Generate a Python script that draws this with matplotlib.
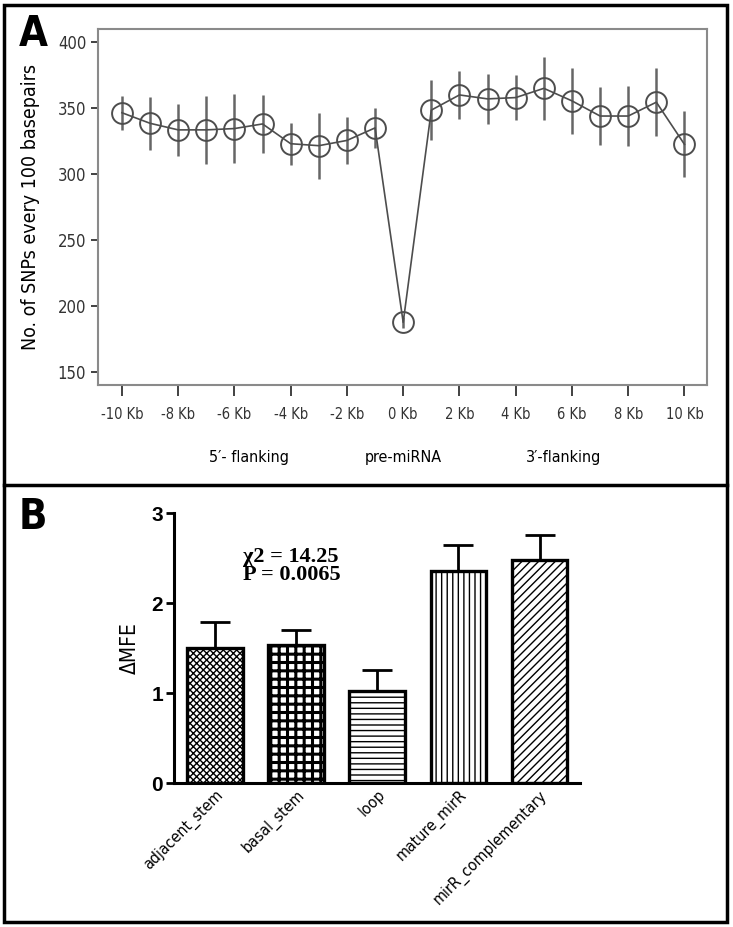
import matplotlib
matplotlib.use("Agg")
import matplotlib.pyplot as plt
from matplotlib import font_manager
from matplotlib.patches import Rectangle
from matplotlib.lines import Line2D

# ---- panel A data: SNP density around pre-miRNA ----
positions_kb = [-10, -9, -8, -7, -6, -5, -4, -3, -2, -1, 0,
                1, 2, 3, 4, 5, 6, 7, 8, 9, 10]
snp_counts = [346.5, 338.5, 333.5, 333.5, 334.5, 338.0, 323.0, 321.5, 325.5, 335.0, 187.5,
              348.5, 360.0, 357.0, 358.0, 365.0, 355.5, 344.0, 344.0, 354.5, 322.5]
snp_err = [13, 20, 20, 26, 26, 22, 16, 25, 18, 15, 4,
           23, 18, 19, 17, 24, 25, 22, 23, 26, 25]
xtick_kb = [-10, -8, -6, -4, -2, 0, 2, 4, 6, 8, 10]
xtick_labels = ["-10 Kb", "-8 Kb", "-6 Kb", "-4 Kb", "-2 Kb", "0 Kb",
                "2 Kb", "4 Kb", "6 Kb", "8 Kb", "10 Kb"]
region_labels = ["5\u2032- flanking", "pre-miRNA", "3\u2032-flanking"]
region_x = [-5.5, 0.0, 5.7]

# ---- panel B data: delta MFE by region ----
regions = ["adjacent_stem", "basal_stem", "loop", "mature_mirR", "mirR_complementary"]
mfe = [1.50, 1.53, 1.02, 2.36, 2.48]
mfe_err = [0.29, 0.17, 0.24, 0.28, 0.28]
hatches = ["xxxxx", "++", "---", "|||", "////"]
stat_text = "\u03c72 = 14.25\nP = 0.0065"

names = {f.name for f in font_manager.fontManager.ttflist}
narrow = "Liberation Sans Narrow" if "Liberation Sans Narrow" in names else "DejaVu Sans"
plt.rcParams["font.family"] = [narrow, "DejaVu Sans"]
plt.rcParams["font.stretch"] = "condensed"

fig = plt.figure(figsize=(7.33, 9.27), dpi=100)

# ---------------- panel A ----------------
gray = "#4d4d4d"
ax1 = fig.add_axes([0.1337, 0.5847, 0.8308, 0.3840])
ax1.errorbar(positions_kb, snp_counts, yerr=snp_err, fmt="none",
             ecolor="#666666", elinewidth=1.8, capsize=0, zorder=2)
ax1.plot(positions_kb, snp_counts, color=gray, lw=1.2, marker="o", ms=15,
         mfc="none", mec=gray, mew=1.4, zorder=3)
ax1.set_xlim(-10.85, 10.8)
ax1.set_ylim(140, 410)
ax1.set_yticks([150, 200, 250, 300, 350, 400])
ax1.set_xticks(xtick_kb)
ax1.set_xticklabels(xtick_labels)
for s in ax1.spines.values():
    s.set_color("#8a8a8a")
    s.set_linewidth(1.5)
ax1.tick_params(axis="y", colors="#333333", labelsize=12, length=5, width=1.3)
ax1.tick_params(axis="x", colors="#333333", labelsize=10.5, length=8, width=1.3, pad=8)
for t in ax1.get_xticklines() + ax1.get_yticklines():
    t.set_color("#8a8a8a")
ax1.set_ylabel("No. of SNPs every 100 basepairs", fontsize=14, labelpad=13)
for lab, xp in zip(region_labels, region_x):
    ax1.text(xp, -0.205, lab, transform=ax1.get_xaxis_transform(),
             ha="center", va="center", fontsize=11.5)
fig.text(0.045, 0.963, "A", fontsize=30, fontweight="bold", ha="center", va="center")

# ---------------- panel B ----------------
ax2 = fig.add_axes([0.2374, 0.1553, 0.5539, 0.2913])
xs = list(range(len(regions)))
bars = ax2.bar(xs, mfe, width=0.69, color="white", edgecolor="black",
               linewidth=2.4, zorder=2)
for b, h in zip(bars, hatches):
    b.set_hatch(h)
    try:
        b.set_hatch_linewidth(2.2 if h == "++" else 1.0)
    except AttributeError:
        pass
ax2.errorbar(xs, mfe, yerr=[[0] * len(mfe), mfe_err], fmt="none", ecolor="black",
             elinewidth=2, capsize=11, capthick=2, zorder=1)
ax2.set_xlim(-0.51, 4.5)
ax2.set_ylim(0, 3)
ax2.set_yticks([0, 1, 2, 3])
ax2.set_yticklabels(["0", "1", "2", "3"], fontfamily="Liberation Sans",
                    fontweight="bold", fontsize=15)
ax2.set_xticks(xs)
ax2.set_xticklabels(regions, rotation=45, ha="right", rotation_mode="anchor",
                    fontsize=11.5, fontstretch="condensed")
for side in ["top", "right"]:
    ax2.spines[side].set_visible(False)
for side in ["left", "bottom"]:
    ax2.spines[side].set_linewidth(2.2)
ax2.tick_params(axis="y", length=6, width=2, pad=2)
ax2.tick_params(axis="x", direction="in", length=4, width=2, pad=3)
ax2.set_ylabel("\u0394MFE", fontsize=15, labelpad=8)
ax2.text(0.34, 2.41, stat_text, fontfamily="Liberation Serif", fontweight="bold",
         fontsize=16, ha="left", va="center", linespacing=0.85)
fig.text(0.045, 0.442, "B", fontsize=30, fontweight="bold", ha="center", va="center")

# ---------------- panel frames ----------------
fig.add_artist(Rectangle((0.0055, 0.0054), 0.9863, 0.9892, transform=fig.transFigure,
                         fill=False, lw=2.5, edgecolor="black"))
fig.add_artist(Line2D([0.0055, 0.9918], [0.4768, 0.4768], transform=fig.transFigure,
                      lw=2.5, color="black"))

fig.savefig("out.png", dpi=100)
